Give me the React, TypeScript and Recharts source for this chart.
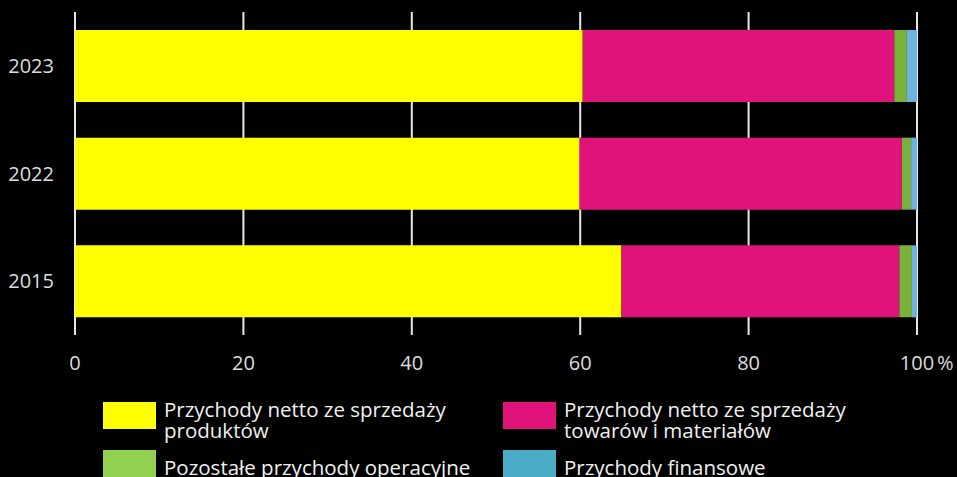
import { BarChart, Bar, XAxis, YAxis, CartesianGrid } from "recharts";

const years = ["2023", "2022", "2015"];
const produkty = [60.3, 59.9, 64.9];
const towary = [37.0, 38.3, 33.0];
const pozostale = [1.5, 1.1, 1.5];
const finansowe = [1.2, 0.7, 0.6];
const xTicks = [0, 20, 40, 60, 80, 100];

const series = [
  { key: "produkty", label: "Przychody netto ze sprzedaży produktów", bar: "#ffff00", swatch: "#ffff00" },
  { key: "towary", label: "Przychody netto ze sprzedaży towarów i materiałów", bar: "#df1379", swatch: "#df1379" },
  { key: "pozostale", label: "Pozostałe przychody operacyjne", bar: "#7ab13a", swatch: "#92d050" },
  { key: "finansowe", label: "Przychody finansowe", bar: "#6cb3e2", swatch: "#4bacc6" },
];

const data = years.map((year, i) => ({
  year,
  produkty: produkty[i],
  towary: towary[i],
  pozostale: pozostale[i],
  finansowe: finansowe[i],
}));

const FONT = "'Open Sans', sans-serif";

function XTick(props: any) {
  const { x, y, payload } = props;
  return (
    <g>
      <text x={x} y={y} dy="0.71em" textAnchor="middle" fill="#dddddd" fontSize={20} fontFamily={FONT}>
        {payload.value}
      </text>
      {payload.value === 100 && (
        <text x={x + 20} y={y} dy="0.71em" textAnchor="start" fill="#dddddd" fontSize={20} fontFamily={FONT}>
          %
        </text>
      )}
    </g>
  );
}

const legendPos = [
  { left: 103, top: 402, textTop: -3 },
  { left: 503, top: 402, textTop: -3 },
  { left: 103, top: 450, textTop: 7 },
  { left: 503, top: 450, textTop: 7 },
];

export default function App() {
  return (
    <div style={{ position: "absolute", left: 0, top: 0, width: 957, height: 477, background: "#000", overflow: "hidden" }}>
      <BarChart
        width={957}
        height={380}
        data={data}
        layout="vertical"
        margin={{ top: 12, right: 40, left: 0, bottom: 0 }}
      >
        <CartesianGrid horizontal={false} vertical stroke="#e8e8e8" strokeWidth={2} />
        <XAxis
          type="number"
          domain={[0, 100]}
          ticks={xTicks}
          axisLine={false}
          tickLine={false}
          tickSize={0}
          tickMargin={21}
          height={45}
          tick={<XTick />}
          interval={0}
        />
        <YAxis
          type="category"
          dataKey="year"
          width={75}
          axisLine={false}
          tickLine={false}
          tickSize={0}
          tickMargin={21}
          tick={{ fill: "#dddddd", fontSize: 20, fontFamily: FONT }}
        />
        {series.map((s) => (
          <Bar key={s.key} dataKey={s.key} stackId="a" fill={s.bar} barSize={72} isAnimationActive={false} />
        ))}
      </BarChart>
      {series.map((s, i) => (
        <div key={s.key} style={{ position: "absolute", left: legendPos[i].left, top: legendPos[i].top }}>
          <div style={{ position: "absolute", left: 0, top: 0, width: 53, height: 27, background: s.swatch }} />
          <div
            style={{
              position: "absolute",
              left: 61,
              top: legendPos[i].textTop,
              width: 310,
              color: "#f0f0f0",
              fontFamily: FONT,
              fontSize: 20.5,
              lineHeight: "21px",
            }}
          >
            {s.label}
          </div>
        </div>
      ))}
    </div>
  );
}
